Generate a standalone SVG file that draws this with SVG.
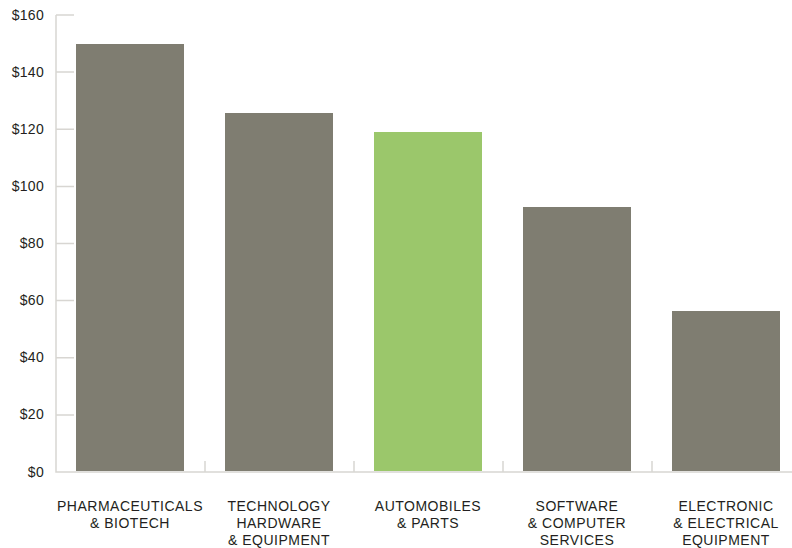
<svg xmlns="http://www.w3.org/2000/svg" width="792" height="548" viewBox="0 0 792 548">
<style>
.ax{stroke:#d8d6d2;stroke-width:1.5;fill:none}
.bar{fill:#7f7d71}
.hl{fill:#9bc76b}
.yl{font-family:"Liberation Sans",Arial,sans-serif;font-size:14px;fill:#231f20;text-anchor:end;letter-spacing:0.3px}
.xl{font-family:"Liberation Sans",Arial,sans-serif;font-size:14px;fill:#231f20;text-anchor:middle;letter-spacing:0.5px}
</style>
<rect width="792" height="548" fill="#ffffff"/>
<g id="axes">
<path class="ax" d="M56,15V472H792"/>
<path class="ax" d="M56,15H74M56,72.1H74M56,129.3H74M56,186.4H74M56,243.5H74M56,300.6H74M56,357.8H74M56,414.9H74"/>
<path class="ax" d="M205,461V472M354,461V472M503,461V472M652,461V472"/>
</g>
<g id="ylabels">
<text class="yl" x="44" y="20">$160</text>
<text class="yl" x="44" y="77">$140</text>
<text class="yl" x="44" y="134">$120</text>
<text class="yl" x="44" y="191">$100</text>
<text class="yl" x="44" y="248">$80</text>
<text class="yl" x="44" y="305">$60</text>
<text class="yl" x="44" y="362">$40</text>
<text class="yl" x="44" y="419">$20</text>
<text class="yl" x="44" y="477">$0</text>
</g>
<g id="bar-pharma"><rect class="bar" x="76" y="44" width="108" height="427"/></g>
<g id="bar-tech"><rect class="bar" x="225" y="113" width="108" height="358"/></g>
<g id="bar-auto"><rect class="hl" x="374" y="132" width="108" height="339"/></g>
<g id="bar-software"><rect class="bar" x="523" y="207" width="108" height="264"/></g>
<g id="bar-electronic"><rect class="bar" x="672" y="311" width="108" height="160"/></g>
<g id="xlabels">
<text class="xl" x="130" y="511">PHARMACEUTICALS</text>
<text class="xl" x="130" y="528">&amp; BIOTECH</text>
<text class="xl" x="279" y="511">TECHNOLOGY</text>
<text class="xl" x="279" y="528">HARDWARE</text>
<text class="xl" x="279" y="545">&amp; EQUIPMENT</text>
<text class="xl" x="428" y="511">AUTOMOBILES</text>
<text class="xl" x="428" y="528">&amp; PARTS</text>
<text class="xl" x="577" y="511">SOFTWARE</text>
<text class="xl" x="577" y="528">&amp; COMPUTER</text>
<text class="xl" x="577" y="545">SERVICES</text>
<text class="xl" x="726" y="511">ELECTRONIC</text>
<text class="xl" x="726" y="528">&amp; ELECTRICAL</text>
<text class="xl" x="726" y="545">EQUIPMENT</text>
</g>
</svg>
